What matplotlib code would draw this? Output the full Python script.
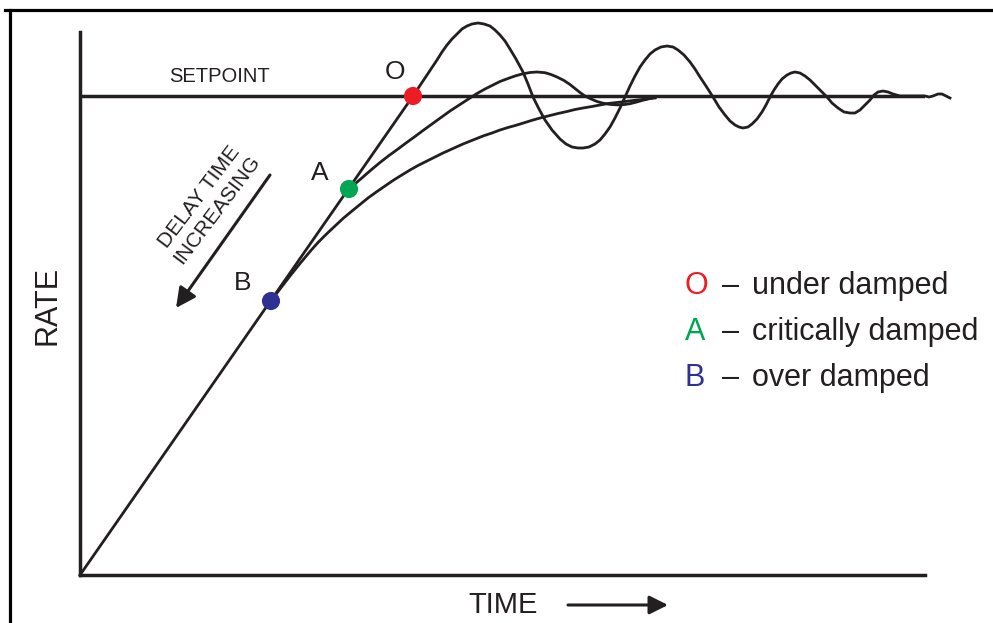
import matplotlib
matplotlib.use("Agg")
import matplotlib.pyplot as plt
from matplotlib.lines import Line2D

plt.rcParams["font.family"] = ["Liberation Sans", "DejaVu Sans"]

INK = "#231F20"
RED = "#ED1C24"
GREEN = "#00A651"
BLUE = "#2E3192"

# units: time and rate both in picture pixels from the origin
SETPOINT = 479
T_MAX = 845
R_MAX = 543

ramp_t = [0, 333]
ramp_r = [0, SETPOINT]

# O - under damped
under_t = [333, 339, 345, 351, 357, 362, 367, 372, 377, 382,
           387, 392, 398, 404, 410, 415, 420, 425, 430, 436,
           443, 448, 453, 459, 465, 472, 480, 486, 492, 498,
           503, 509, 515, 520, 525, 530, 535, 540, 545, 550,
           555, 560, 565, 570, 575, 581, 587, 593, 598, 604,
           610, 615, 620, 626, 633, 639, 645, 650, 655, 659,
           663, 668, 672, 677, 682, 686, 690, 694, 698, 702,
           707, 711, 715, 720, 725, 730, 735, 741, 747, 752,
           758, 764, 770, 775, 780, 785, 790, 794, 798, 803,
           808, 813, 820, 845, 849, 853, 858, 862, 866, 870]
under_r = [479, 488, 497, 506, 515, 523, 530, 536, 541, 546,
           549, 551, 552, 551, 549, 545, 540, 534, 526, 516,
           503, 491, 478, 466, 455, 445, 436, 431, 428, 427,
           427, 428, 431, 435, 441, 448, 457, 467, 478, 489,
           499, 508, 515, 521, 525, 528, 529, 528, 525, 520,
           513, 506, 498, 489, 478, 468, 460, 454, 450, 448,
           447, 448, 451, 456, 463, 470, 478, 485, 491, 496,
           500, 502, 503, 502, 499, 495, 490, 484, 478, 472,
           467, 463, 462, 462, 465, 470, 475, 480, 483, 484,
           483, 481, 479, 479, 478, 479, 481, 481, 479, 477]

# A - critically damped
crit_t = [269, 276, 283, 291, 300, 309, 318, 326, 335, 343,
          352, 361, 370, 380, 390, 397, 405, 412, 420, 428,
          435, 442, 450, 457, 465, 471, 477, 484, 490, 495,
          500, 505, 510, 517, 523, 530, 537, 544, 550, 556,
          563, 570, 575]
crit_r = [386, 392, 398, 405, 412.5, 419.5, 426, 432, 438.5, 444.5,
          451, 457.5, 464, 470.5, 477, 481.5, 486, 489.5, 493.5, 496.5,
          499, 501, 502.5, 503, 502.3, 500.5, 498, 494.5, 490.5, 486.5,
          482.5, 479, 476.5, 473.5, 471.8, 470.6, 470.1, 470.4, 471.3, 472.8,
          474.8, 476.5, 477.5]

# B - over damped
over_t = [191, 200, 210, 220, 230, 238, 247, 255, 263, 272,
          280, 288, 297, 305, 313, 321, 330, 338, 347, 355,
          363, 373, 383, 393, 403, 412, 420, 428, 437, 445,
          453, 462, 470, 478, 487, 495, 503, 512, 520, 528,
          537, 545, 553, 562, 570, 575]
over_r = [274, 286, 299, 311.5, 323.5, 332.5, 341.5, 349, 356.5, 364,
          370.5, 377, 383.5, 389, 394.5, 399.5, 405, 409.5, 414, 418,
          422, 426.5, 431, 435, 439, 442, 445, 447.5, 450, 452.5,
          455, 457.5, 459.5, 461.5, 463.5, 465.5, 467, 468.5, 470, 471.5,
          472.5, 473.5, 474.5, 475.5, 476.5, 477]

point_names = ["O", "A", "B"]
point_t = [333, 269, 191]
point_r = [479, 386, 274]
point_colors = [RED, GREEN, BLUE]
legend_text = ["under damped", "critically damped", "over damped"]

W, H = 993, 623
fig = plt.figure(figsize=(W / 100, H / 100), dpi=100)
fig.patch.set_facecolor("white")

ax = fig.add_axes([80 / W, 48 / H, T_MAX / W, R_MAX / H])
ax.set_xlim(0, T_MAX)
ax.set_ylim(0, R_MAX)
ax.set_facecolor("none")
for side in ["top", "right"]:
    ax.spines[side].set_visible(False)
for side in ["left", "bottom"]:
    ax.spines[side].set_color(INK)
    ax.spines[side].set_linewidth(2.5)
ax.set_xticks([])
ax.set_yticks([])

# outer frame (top and left edges)
fig.add_artist(Line2D([5 / W, 1], [1 - 10 / H, 1 - 10 / H], color="black", lw=2.3))
fig.add_artist(Line2D([10 / W, 10 / W], [0, 1 - 10 / H], color="black", lw=2.3))

ax.plot([0, T_MAX], [SETPOINT, SETPOINT], color=INK, lw=2.5, solid_capstyle="butt")

curve_kw = dict(color=INK, lw=2.0, clip_on=False, solid_joinstyle="round")
ax.plot(ramp_t, ramp_r, **curve_kw)
ax.plot(under_t, under_r, **curve_kw)
ax.plot(crit_t, crit_r, **curve_kw)
ax.plot(over_t, over_r, **curve_kw)

ax.scatter(point_t, point_r, s=170, c=point_colors, zorder=5, linewidths=0)

label_offsets = [(-18, 24), (-29, 16), (-28, 18)]
for name, t, r, (dx, dy) in zip(point_names, point_t, point_r, label_offsets):
    ax.text(t + dx, r + dy, name, fontsize=19, color=INK, ha="center", va="center")

ax.text(140, 499, "SETPOINT", fontsize=14.5, color=INK, ha="center", va="center")

ax.text(128, 372, "DELAY TIME\nINCREASING", fontsize=15, color=INK, ha="center",
        va="center", rotation=53, rotation_mode="anchor", linespacing=1.15)
ax.annotate("", xy=(96, 267), xytext=(190, 400),
            arrowprops=dict(arrowstyle="-|>", color=INK, lw=2.2, mutation_scale=30,
                            shrinkA=0, shrinkB=0))

ax.text(-32, 270, "RATE", fontsize=22, color=INK, ha="center", va="center", rotation=90)
ax.text(423, -30, "TIME", fontsize=21, color=INK, ha="center", va="center")
ax.annotate("", xy=(588, -30), xytext=(488, -30), annotation_clip=False,
            arrowprops=dict(arrowstyle="-|>", color=INK, lw=2.2, mutation_scale=28,
                            shrinkA=0, shrinkB=0))

rows_r = [289, 243, 197]
for name, color, desc, r in zip(point_names, point_colors, legend_text, rows_r):
    ax.text(605, r, name, fontsize=22, color=color, ha="left", va="center")
    ax.text(642, r, "\u2013", fontsize=22, color=INK, ha="left", va="center")
    ax.text(672, r, desc, fontsize=22, color=INK, ha="left", va="center")

fig.savefig("out.png", dpi=100, facecolor="white")
